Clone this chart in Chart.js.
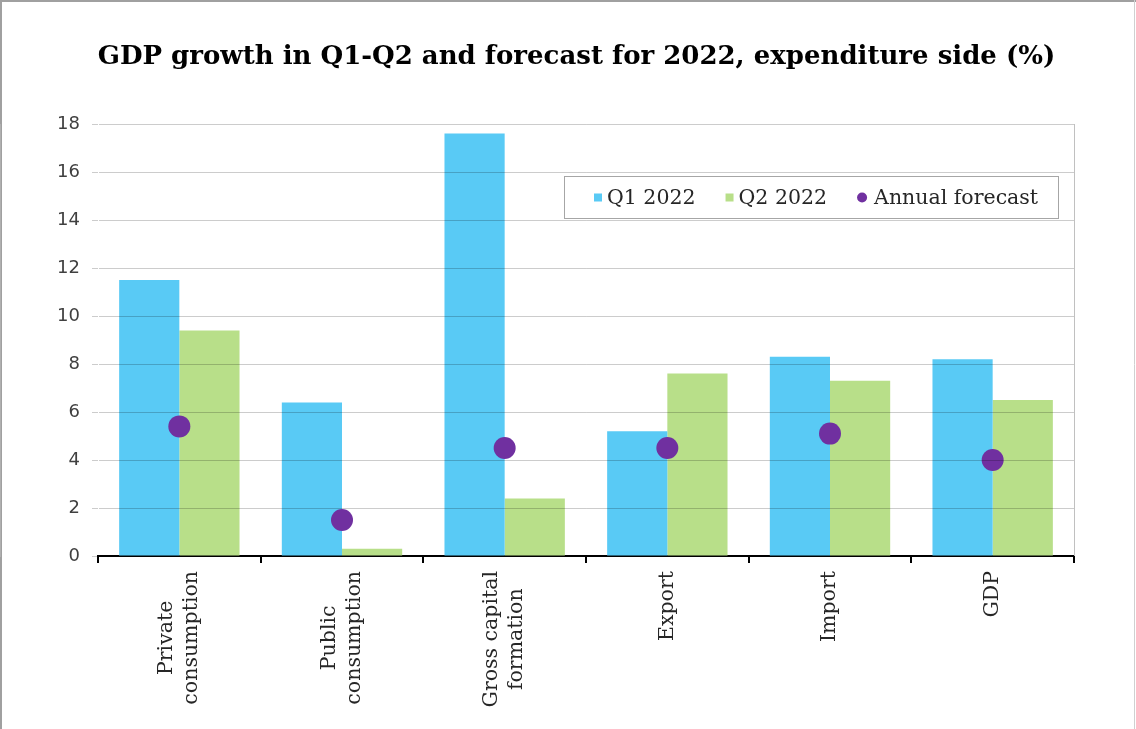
<!DOCTYPE html>
<html>
<head>
<meta charset="utf-8">
<script src="https://cdn.jsdelivr.net/npm/chart.js@4.4.1/dist/chart.umd.min.js"></script>
<style>
    body { margin: 0; background: #fff; }
    #wrap { position: absolute; left: 0; top: 0; width: 1136px; height: 729px; }
</style>
</head>
<body>
<div id="wrap"><canvas id="gdpChart" width="1136" height="729"></canvas></div>
<script>
// --- DATA ---
const categories = [
    ['Private', 'consumption'],
    ['Public', 'consumption'],
    ['Gross capital', 'formation'],
    ['Export'],
    ['Import'],
    ['GDP']
];
const q1Values = [11.5, 6.4, 17.6, 5.2, 8.3, 8.2];
const q2Values = [9.4, 0.3, 2.4, 7.6, 7.3, 6.5];
const forecastValues = [5.4, 1.5, 4.5, 4.5, 5.1, 4.0];
const yTicks = [0, 2, 4, 6, 8, 10, 12, 14, 16, 18];
const chartTitle = 'GDP growth in Q1-Q2 and forecast for 2022, expenditure side (%)';

// --- CONFIG ---
const COLORS = {
    q1: '#59CAF5',
    q2: '#B8DF89',
    forecast: '#7030A0',
    text: '#262626',
    grid: 'rgba(0,0,0,0.2)'
};
const SERIF = '"DejaVu Serif", serif';

// frame round the whole picture + right edge of the plot area
const framePlugin = {
    id: 'frame',
    beforeDraw(chart) {
        const ctx = chart.ctx;
        ctx.save();
        ctx.fillStyle = '#fff';
        ctx.fillRect(0, 0, chart.width, chart.height);
        ctx.strokeStyle = '#a0a0a0';
        ctx.lineWidth = 2;
        ctx.beginPath();
        ctx.moveTo(0, 1); ctx.lineTo(chart.width, 1);
        ctx.moveTo(1, 0); ctx.lineTo(1, chart.height);
        ctx.stroke();
        ctx.strokeStyle = '#d0d0d0';
        ctx.lineWidth = 1;
        ctx.beginPath();
        ctx.moveTo(chart.width - 1.5, 0); ctx.lineTo(chart.width - 1.5, chart.height);
        ctx.stroke();
        ctx.restore();
    },
    afterDraw(chart) {
        const a = chart.chartArea, ctx = chart.ctx;
        ctx.save();
        ctx.strokeStyle = '#c0c0c0';
        ctx.lineWidth = 1;
        ctx.beginPath();
        ctx.moveTo(a.right + 0.5, a.top);
        ctx.lineTo(a.right + 0.5, a.bottom);
        ctx.stroke();

        // title, centred a little right of the canvas middle like the original
        ctx.font = 'bold 26px ' + SERIF;
        ctx.fillStyle = '#000';
        ctx.textAlign = 'center';
        ctx.textBaseline = 'middle';
        ctx.fillText(chartTitle, 576.5, 57);
        ctx.restore();
    }
};

// rotated category labels, lines centred on each other
const xLabelsPlugin = {
    id: 'xLabels',
    afterDraw(chart) {
        const ctx = chart.ctx;
        const xs = chart.scales.x;
        const lineH = 25;
        ctx.save();
        ctx.font = '20.5px ' + SERIF;
        ctx.fillStyle = COLORS.text;
        ctx.textAlign = 'center';
        ctx.textBaseline = 'middle';
        categories.forEach((lines, i) => {
            const x = xs.getPixelForValue(i);
            const w = Math.max(...lines.map(l => ctx.measureText(l).width));
            const yMid = xs.top + 15 + w / 2;
            lines.forEach((l, j) => {
                ctx.save();
                ctx.translate(x + (j - (lines.length - 1) / 2) * lineH, yMid);
                ctx.rotate(-Math.PI / 2);
                ctx.fillText(l, 0, 0);
                ctx.restore();
            });
        });
        ctx.restore();
    }
};

// legend box inside the plot area
const legendBoxPlugin = {
    id: 'legendBox',
    afterDraw(chart) {
        const ctx = chart.ctx;
        const box = { x: 564.5, y: 176.5, w: 494, h: 42 };
        const cy = box.y + box.h / 2;
        ctx.save();
        ctx.fillStyle = '#fff';
        ctx.fillRect(box.x, box.y, box.w, box.h);
        ctx.strokeStyle = '#a6a6a6';
        ctx.lineWidth = 1;
        ctx.strokeRect(box.x, box.y, box.w, box.h);

        ctx.font = '20.5px ' + SERIF;
        ctx.textBaseline = 'middle';
        ctx.textAlign = 'left';
        let x = 594;
        chart.data.datasets.forEach(ds => {
            ctx.fillStyle = ds.backgroundColor;
            if (ds.type === 'line') {
                ctx.beginPath();
                ctx.arc(x + 5, cy, 5, 0, Math.PI * 2);
                ctx.fill();
                x += 17;
            } else {
                ctx.fillRect(x, cy - 4, 8, 8);
                x += 13;
            }
            ctx.fillStyle = COLORS.text;
            ctx.fillText(ds.label, x, cy + 1);
            x += ctx.measureText(ds.label).width + 30;
        });
        ctx.restore();
    }
};

new Chart(document.getElementById('gdpChart'), {
    type: 'bar',
    data: {
        labels: categories.map(c => c.join(' ')),
        datasets: [
            {
                label: 'Q1 2022',
                data: q1Values,
                backgroundColor: COLORS.q1,
                categoryPercentage: 0.74,
                barPercentage: 1,
                order: 2
            },
            {
                label: 'Q2 2022',
                data: q2Values,
                backgroundColor: COLORS.q2,
                categoryPercentage: 0.74,
                barPercentage: 1,
                order: 2
            },
            {
                type: 'line',
                label: 'Annual forecast',
                data: forecastValues,
                showLine: false,
                backgroundColor: COLORS.forecast,
                borderColor: COLORS.forecast,
                pointRadius: 11,
                pointHoverRadius: 11,
                borderWidth: 0,
                order: 0
            }
        ]
    },
    options: {
        responsive: false,
        animation: false,
        layout: { padding: { left: 0, right: 62, top: 124, bottom: 0 } },
        scales: {
            x: {
                offset: true,
                grid: {
                    offset: true,
                    drawOnChartArea: false,
                    drawTicks: true,
                    tickLength: 7,
                    color: '#000',
                    lineWidth: 2
                },
                border: { display: true, color: '#000', width: 2 },
                ticks: { display: false },
                afterFit: s => { s.height = 173; }
            },
            y: {
                min: 0,
                max: 18,
                afterBuildTicks: s => { s.ticks = yTicks.map(v => ({ value: v })); },
                grid: { color: COLORS.grid, tickLength: 6, z: 1 },
                border: { display: true, color: '#bfbfbf', width: 1 },
                ticks: {
                    padding: 12,
                    color: '#404040',
                    font: { family: '"DejaVu Sans", sans-serif', size: 18 }
                },
                afterFit: s => { s.width = 98; }
            }
        },
        plugins: {
            legend: { display: false },
            tooltip: { enabled: false },
            title: { display: false }
        }
    },
    plugins: [framePlugin, xLabelsPlugin, legendBoxPlugin]
});
</script>
</body>
</html>
